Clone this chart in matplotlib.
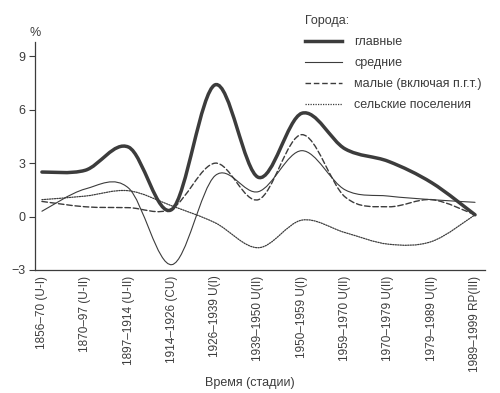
import matplotlib
matplotlib.use("Agg")
import matplotlib.pyplot as plt
import numpy as np
from matplotlib.path import Path
from matplotlib.patches import PathPatch
from matplotlib.lines import Line2D

plt.rcParams['font.family'] = ['Liberation Sans', 'DejaVu Sans']

stages = ["1856–70 (U-I)", "1870–97 (U-II)", "1897–1914 (U-II)",
          "1914–1926 (CU)", "1926–1939 U(I)", "1939–1950 U(II)",
          "1950–1959 U(I)", "1959–1970 U(II)", "1970–1979 U(II)",
          "1979–1989 U(II)", "1989–1999 RP(III)"]

main_cities = [2.5, 2.6, 3.9, 0.4, 7.4, 2.2, 5.8, 3.8, 3.1, 1.9, 0.1]
medium_cities = [0.3, 1.55, 1.6, -2.7, 2.3, 1.4, 3.7, 1.5, 1.15, 0.95, 0.8]
small_cities = [0.85, 0.55, 0.5, 0.45, 3.0, 0.95, 4.6, 1.1, 0.55, 0.95, 0.1]
rural = [0.95, 1.15, 1.45, 0.6, -0.35, -1.75, -0.2, -0.9, -1.55, -1.4, 0.1]

ink = "#3c3c3c"


def smooth_path(xs, ys):
    # Catmull-Rom through the points, drawn as cubic Bezier segments
    pts = np.column_stack([xs, ys]).astype(float)
    n = len(pts)
    verts = [pts[0]]
    codes = [Path.MOVETO]
    for i in range(n - 1):
        p0 = pts[i - 1] if i > 0 else pts[i]
        p1, p2 = pts[i], pts[i + 1]
        p3 = pts[i + 2] if i + 2 < n else pts[i + 1]
        verts += [p1 + (p2 - p0) / 6, p2 - (p3 - p1) / 6, p2]
        codes += [Path.CURVE4] * 3
    return Path(verts, codes)


fig = plt.figure(figsize=(5, 3.93), dpi=100)
ax = fig.add_axes([0.07, 0.313, 0.9, 0.58])

x = np.arange(len(stages))
series = [
    (main_cities, "главные", dict(lw=2.5, ls="-")),
    (medium_cities, "средние", dict(lw=0.8, ls="-")),
    (small_cities, "малые (включая п.г.т.)", dict(lw=1.0, ls=(0, (4, 2)))),
    (rural, "сельские поселения", dict(lw=0.9, ls=(0, (1, 1)))),
]

handles = []
for vals, label, st in series:
    ax.add_patch(PathPatch(smooth_path(x, vals), fill=False,
                           edgecolor=ink, capstyle="round", **st))
    handles.append(Line2D([], [], color=ink, label=label, **st))

ax.set_xlim(-0.16, 10.23)
ax.set_ylim(-3, 9.8)
ax.set_yticks([-3, 0, 3, 6, 9])
ax.set_xticks(x)
ax.set_xticklabels(stages, rotation=90, fontsize=8.5, color=ink)
ax.tick_params(axis="x", length=0, pad=4)
ax.tick_params(axis="y", length=4, width=0.8, labelsize=9, colors=ink, pad=3)

for side in ("top", "right"):
    ax.spines[side].set_visible(False)
for side in ("left", "bottom"):
    ax.spines[side].set_color(ink)
    ax.spines[side].set_linewidth(0.9)

ax.text(0, 1.015, "%", transform=ax.transAxes, ha="center", va="bottom",
        fontsize=9, color=ink)

ax.set_xlabel("Время (стадии)", fontsize=9, color=ink)
ax.xaxis.set_label_coords(0.478, -0.47)

leg = ax.legend(handles=handles, title="Города:", frameon=False,
                loc="upper left", bbox_to_anchor=(0.585, 1.145),
                fontsize=9, title_fontsize=9, handlelength=3.0,
                handletextpad=1.0, labelspacing=0.72, borderpad=0)
leg._legend_box.align = "left"
for t in leg.get_texts():
    t.set_color(ink)
leg.get_title().set_color(ink)

fig.savefig("out.png", dpi=100)
